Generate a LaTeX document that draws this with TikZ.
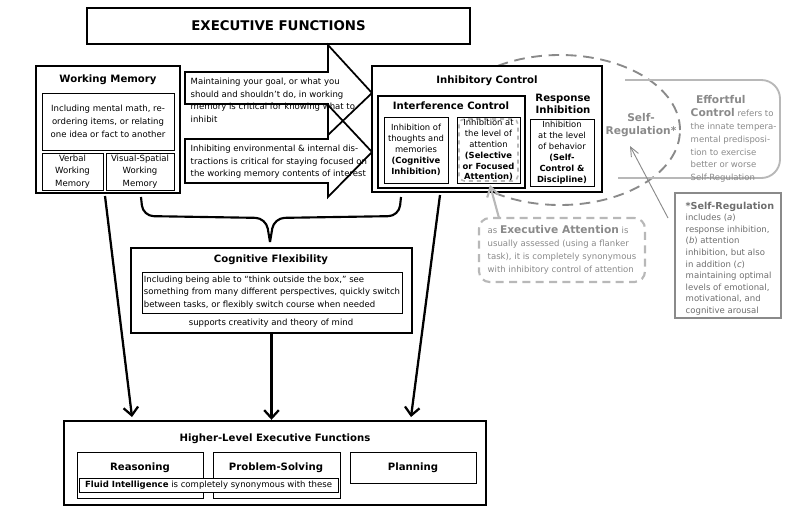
\documentclass[tikz,border=0pt]{standalone}
\usepackage{fontspec}
\setmainfont{DejaVu Sans}
\usetikzlibrary{positioning,fit,shapes,calc,arrows.meta}
\definecolor{srgray}{HTML}{8A8A8A}
\definecolor{ltgray}{HTML}{B8B8B8}

\begin{document}
\begin{tikzpicture}[x=0.75pt,y=-0.75pt,
	every node/.style={font=\fontsize{6.4}{9.6}\selectfont,align=center},
	heavy/.style={draw,line width=1.8pt,inner sep=0pt},
	thin/.style={draw,line width=0.6pt,inner sep=0pt},
	ttl/.style={font=\fontsize{7.6}{9.4}\selectfont\bfseries},
	tight/.style={font=\fontsize{6.3}{8.2}\selectfont},
	flow/.style={->,line width=1.7pt,>={Straight Barb[length=6pt,width=11pt]}}
	]
	\useasboundingbox (0,0) rectangle (797,519);

	% title
	\node[heavy,fit={(87,8) (470,44)}] (ef) {};
	\node[font=\fontsize{10}{12}\selectfont\bfseries] at (ef) {EXECUTIVE FUNCTIONS};

	% working memory
	\node[heavy,fit={(36,66) (180,193)}] (wm) {};
	\node[ttl] at (108,80) {Working Memory};
	\node[thin,fit={(42,93) (174,150)}] (wmi) {};
	\node at (wmi) {Including mental math, re-\\ordering items, or relating\\one idea or fact to another};
	\node[thin,fit={(42,153) (103,190)}] (vwm) {};
	\node at (vwm) {Verbal\\Working\\Memory};
	\node[thin,fit={(106,153) (174,190)}] (vswm) {};
	\node at (vswm) {Visual-Spatial\\Working\\Memory};

	% the two arrows
	\draw[line width=1.3pt] (185,72) -- (328,72) -- (328,45) -- (372,93) -- (328,135)
		-- (328,104) -- (185,104) -- cycle;
	\draw[line width=1.3pt] (185,139) -- (328,139) -- (328,105) -- (372,152) -- (328,197)
		-- (328,183) -- (185,183) -- cycle;
	\node[align=left,anchor=north west] (a1) at (186,73) {Maintaining your goal, or what you\\should and shouldn’t do, in working\\memory is critical for knowing what to\\inhibit};
	\node[align=left,anchor=north west] (a2) at (186,140) {Inhibiting environmental \& internal dis-\\tractions is critical for staying focused on\\the working memory contents of interest};

	% self-regulation ellipse
	\node[draw=srgray,line width=1.4pt,dash pattern=on 8pt off 5pt,ellipse,
		minimum width=240*0.75pt,minimum height=150*0.75pt] (sr) at (560,130) {};

	% inhibitory control
	\node[heavy,fill=white,fit={(372,66) (602,192)}] (ic) {};
	\node[ttl] at (487,81) {Inhibitory Control};
	\node[draw,line width=1.2pt,inner sep=0pt,fit={(378,96) (525,188)}] (intc) {};
	\node[ttl] at (451,106) {Interference Control};
	\node[ttl,font=\fontsize{7.6}{8.6}\selectfont\bfseries] at (563,104) {Response\\Inhibition};
	\node[thin,fit={(384,117) (448,183)}] (cogi) {};
	\node[tight] at (cogi) {Inhibition of\\thoughts and\\memories\\\textbf{(Cognitive}\\\textbf{Inhibition)}};
	\node[thin,fit={(457,117) (520,183)}] (sel) {};
	\draw[ltgray,dashed,line width=1.2pt,rounded corners=4pt] (459,119) rectangle (518,181);
	\node[tight] at (sel) {Inhibition at\\the level of\\attention\\\textbf{(Selective}\\\textbf{or Focused}\\\textbf{Attention)}};
	\node[thin,fit={(530,119) (594,186)}] (resp) {};
	\node[tight] at (resp) {Inhibition\\at the level\\of behavior\\\textbf{(Self-}\\\textbf{Control \&}\\\textbf{Discipline)}};

	\node[srgray,font=\fontsize{8}{10}\selectfont\bfseries] (srl) at (641,125) {Self-\\Regulation*};

	% effortful control
	\draw[ltgray,line width=1.4pt,rounded corners=14pt] (625,80) -- (780,80) -- (780,178) -- (618,178);
	\node[srgray,align=left,anchor=north west] (efc) at (686,91)
		{\hspace*{4pt}{\fontsize{8}{9.6}\selectfont\bfseries Effortful}\\{\fontsize{8}{9.6}\selectfont\bfseries Control} refers to\\the innate tempera-\\mental predisposi-\\tion to exercise\\better or worse\\Self-Regulation};

	% self-regulation note
	\node[draw=srgray,line width=0.8pt,inner sep=0pt,fit={(675,193) (781,318)}] (srn) {};
	\node[srgray!80!black,align=left,anchor=north west,font=\fontsize{6.4}{8.7}\selectfont] at (681,197)
		{{\fontsize{7.2}{9}\selectfont\bfseries *Self-Regulation}\\includes (\textit{a})\\response inhibition,\\(\textit{b}) attention\\inhibition, but also\\in addition (\textit{c})\\maintaining optimal\\levels of emotional,\\motivational, and\\cognitive arousal};
	\draw[->,srgray,line width=0.7pt,>={Straight Barb[length=7pt,width=6pt]}] (668,218) -- (630,146);

	% executive attention
	\node[draw=ltgray,line width=1.6pt,dash pattern=on 6pt off 4pt,rounded corners=8pt,
		inner sep=0pt,fit={(479,218) (645,282)}] (ea) {};
	\node[srgray,align=left] at (ea) {as {\fontsize{8}{9.6}\selectfont\bfseries Executive Attention} is\\usually assessed (using a flanker\\task), it is completely synonymous\\with inhibitory control of attention};
	\coordinate (eat) at (499,218);
	\draw[->,ltgray,line width=1.6pt,>={Straight Barb[length=7pt,width=9pt]}] (eat) -- (490,185);

	% brace
	\draw[line width=1.6pt,rounded corners=8pt] (141,197) -- (143,216) -- (266,218) -- (270,242);
	\draw[line width=1.6pt,rounded corners=8pt] (401,197) -- (399,216) -- (274,218) -- (270,242);

	% cognitive flexibility
	\node[heavy,fit={(131,248) (412,333)}] (cf) {};
	\node[ttl] at (271,260) {Cognitive Flexibility};
	\node[thin,fit={(142,272) (402,313)}] (cfi) {};
	\node[align=left] at (cfi) {Including being able to “think outside the box,” see\\something from many different perspectives, quickly switch\\between tasks, or flexibly switch course when needed};
	\node at (271,323) {supports creativity and theory of mind};

	% higher-level
	\node[heavy,fit={(64,421) (486,505)}] (hl) {};
	\node[ttl] at (275,439) {Higher-Level Executive Functions};
	\node[thin,fit={(77,452) (203,498)}] (rea) {};
	\node[ttl] at (140,468) {Reasoning};
	\node[thin,fit={(213,452) (340,498)}] (ps) {};
	\node[ttl] at (276,468) {Problem-Solving};
	\node[thin,fit={(350,452) (476,483)}] (pl) {};
	\node[ttl] at (pl) {Planning};
	\node[thin,fill=white,fit={(79,478) (338,492)}] (fi) {};
	\node at (fi) {\textbf{Fluid Intelligence} is completely synonymous with these};

	% flows
	\coordinate (w1) at (105,196);
	\coordinate (w2) at (132,417);
	\draw[flow] (w1) -- (w2);
	\draw[flow] (cf.south) -- (cf.south |- hl.north);
	\coordinate (i1) at (440,195);
	\coordinate (i2) at (411,417);
	\draw[flow] (i1) -- (i2);
\end{tikzpicture}
\end{document}
